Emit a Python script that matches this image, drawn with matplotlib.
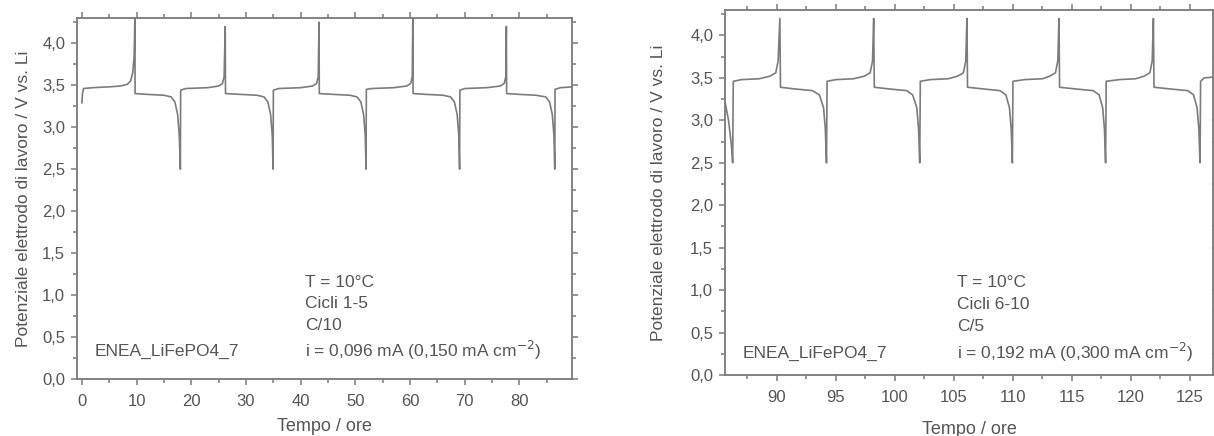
import matplotlib
matplotlib.use('Agg')
import matplotlib.pyplot as plt
from matplotlib.ticker import MultipleLocator, FuncFormatter

plt.rcParams['font.family'] = ['Liberation Sans', 'DejaVu Sans']

# cycles 1-5, C/10 (hours, volts)
t_left = [0, 0.1, 0.3, 2, 5, 7, 8.3, 8.9, 9.3, 9.55, 9.7,
          9.72, 12, 15, 16.3, 17.0, 17.5, 17.8, 18.0,
          18.05, 19, 23, 25.0, 25.7, 26.0, 26.2,
          26.25, 29, 32, 33.3, 34.0, 34.5, 34.8, 34.95,
          35.0, 36, 40, 42.2, 42.9, 43.2, 43.35,
          43.4, 46, 49, 50.3, 51.0, 51.5, 51.8, 51.95,
          52.0, 53, 57, 59.4, 60.1, 60.4, 60.5,
          60.55, 63, 66, 67.4, 68.1, 68.6, 68.9, 69.05,
          69.1, 70, 74, 76.5, 77.2, 77.5, 77.6,
          77.65, 80, 83, 84.8, 85.5, 86.0, 86.3, 86.45,
          86.5, 87.5, 89.7]
v_left = [3.29, 3.40, 3.46, 3.47, 3.48, 3.49, 3.51, 3.55, 3.65, 3.85, 4.35,
          3.40, 3.39, 3.38, 3.36, 3.30, 3.15, 2.9, 2.5,
          3.44, 3.46, 3.47, 3.49, 3.52, 3.6, 4.2,
          3.40, 3.39, 3.38, 3.36, 3.30, 3.15, 2.9, 2.5,
          3.44, 3.46, 3.47, 3.49, 3.52, 3.6, 4.25,
          3.40, 3.39, 3.38, 3.36, 3.30, 3.15, 2.9, 2.5,
          3.45, 3.46, 3.47, 3.49, 3.52, 3.6, 4.35,
          3.40, 3.39, 3.38, 3.36, 3.30, 3.15, 2.9, 2.5,
          3.44, 3.46, 3.47, 3.49, 3.52, 3.6, 4.2,
          3.40, 3.39, 3.38, 3.36, 3.30, 3.15, 2.9, 2.5,
          3.45, 3.47, 3.48]

# cycles 6-10, C/5
t_right = [85.6, 85.9, 86.15, 86.25,
           86.3, 87, 88.5, 89.4, 89.9, 90.1, 90.25,
           90.3, 91.5, 93, 93.6, 93.95, 94.1, 94.2,
           94.25, 95, 96.5, 97.4, 97.9, 98.1, 98.2,
           98.25, 99.5, 101, 101.5, 101.85, 102.0, 102.1,
           102.15, 103, 104.5, 105.3, 105.8, 106.0, 106.1,
           106.15, 107.5, 108.9, 109.4, 109.7, 109.85, 109.95,
           110.0, 111, 112.5, 113.1, 113.6, 113.8, 113.9,
           113.95, 115.3, 116.8, 117.3, 117.6, 117.75, 117.85,
           117.9, 119, 120.4, 121.1, 121.6, 121.8, 121.9,
           121.95, 123.3, 124.8, 125.3, 125.6, 125.75, 125.85,
           125.9, 126.2, 127]
v_right = [3.22, 3.0, 2.7, 2.5,
           3.46, 3.48, 3.49, 3.52, 3.56, 3.7, 4.2,
           3.39, 3.37, 3.35, 3.30, 3.15, 2.9, 2.5,
           3.46, 3.48, 3.49, 3.52, 3.56, 3.7, 4.2,
           3.39, 3.37, 3.35, 3.30, 3.15, 2.9, 2.5,
           3.46, 3.48, 3.49, 3.52, 3.56, 3.7, 4.2,
           3.39, 3.37, 3.35, 3.30, 3.15, 2.9, 2.5,
           3.46, 3.48, 3.49, 3.52, 3.56, 3.7, 4.2,
           3.39, 3.37, 3.35, 3.30, 3.15, 2.9, 2.5,
           3.46, 3.48, 3.49, 3.52, 3.56, 3.7, 4.2,
           3.39, 3.37, 3.35, 3.30, 3.15, 2.9, 2.5,
           3.46, 3.50, 3.51]

notes_left = ['T = 10°C', 'Cicli 1-5', 'C/10', 'i = 0,096 mA (0,150 mA cm$^{-2}$)']
notes_right = ['T = 10°C', 'Cicli 6-10', 'C/5', 'i = 0,192 mA (0,300 mA cm$^{-2}$)']
sample = 'ENEA_LiFePO4_7'

line_col = '#7c7c7c'
frame_col = '#7a7a7a'
text_col = '#555555'

comma = FuncFormatter(lambda v, p: f'{v:.1f}'.replace('.', ','))
comma0 = FuncFormatter(lambda v, p: f'{v:.0f}')

fig = plt.figure(figsize=(12.14, 4.36), dpi=100)
ax1 = fig.add_axes([77 / 1214, 57 / 436, 495 / 1214, 361 / 436])
ax2 = fig.add_axes([725 / 1214, 61 / 436, 488 / 1214, 365 / 436])


def style(ax, xmaj, xmin):
    for s in ax.spines.values():
        s.set_color(frame_col)
        s.set_linewidth(1.3)
    ax.set_ylim(0, 4.3)
    ax.yaxis.set_major_locator(MultipleLocator(0.5))
    ax.yaxis.set_minor_locator(MultipleLocator(0.25))
    ax.xaxis.set_major_locator(MultipleLocator(xmaj))
    ax.xaxis.set_minor_locator(MultipleLocator(xmin))
    ax.yaxis.set_major_formatter(comma)
    ax.xaxis.set_major_formatter(comma0)
    ax.tick_params(which='both', direction='out', color=frame_col,
                   labelcolor=text_col, labelsize=12, width=1.1,
                   top=True, right=True, pad=4)
    ax.tick_params(axis='x', pad=6)
    ax.tick_params(which='major', length=4.5)
    ax.tick_params(which='minor', length=3)
    ax.set_xlabel('Tempo / ore', fontsize=13, color=text_col, labelpad=7)
    ax.set_ylabel('Potenziale elettrodo di lavoro / V vs. Li', fontsize=12.5,
                  color=text_col, labelpad=8)


ax1.plot(t_left, v_left, color=line_col, lw=1.2)
ax1.set_xlim(-0.9, 89.6)
style(ax1, 10, 5)
for s, y in zip(notes_left, [1.15, 0.90, 0.64, 0.34]):
    ax1.text(40.8, y, s, fontsize=12.5, color=text_col, va='center')
ax1.text(2.4, 0.33, sample, fontsize=12.5, color=text_col, va='center')

ax2.plot(t_right, v_right, color=line_col, lw=1.2)
ax2.set_xlim(85.6, 126.95)
style(ax2, 5, 2.5)
ax2.xaxis.labelpad = 12
ax2.yaxis.labelpad = 17
for s, y in zip(notes_right, [1.09, 0.83, 0.57, 0.26]):
    ax2.text(105.3, y, s, fontsize=12.5, color=text_col, va='center')
ax2.text(87.1, 0.26, sample, fontsize=12.5, color=text_col, va='center')

fig.savefig('out.png', dpi=100)
